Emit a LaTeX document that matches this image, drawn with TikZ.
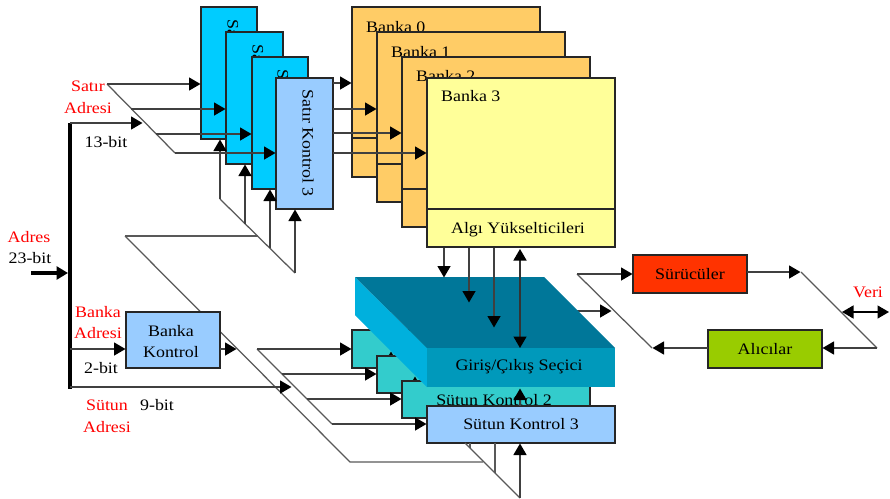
\documentclass[tikz,border=0pt]{standalone}
\usepackage{fontspec}
\setmainfont[FakeStretch=1.12]{Liberation Serif}
\usetikzlibrary{arrows.meta}
\definecolor{cyanbox}{HTML}{00CCFF}
\definecolor{lightblue}{HTML}{99CCFF}
\definecolor{bankorange}{HTML}{FFCC66}
\definecolor{bankyellow}{HTML}{FFFF99}
\definecolor{tealbox}{HTML}{33CCCC}
\definecolor{drvred}{HTML}{FF3300}
\definecolor{rcvgreen}{HTML}{99CC00}
\definecolor{iotop}{HTML}{007799}
\definecolor{iofront}{HTML}{0099BB}
\definecolor{ioside}{HTML}{00B0DD}
\tikzset{
  txt/.style={font=\fontsize{16}{18}\selectfont, inner sep=0pt, text=black, align=center},
  redtxt/.style={txt, text=red},
  boxstyle/.style={draw=black!85, line width=1.2pt, inner sep=0pt, outer sep=0pt},
  conn/.style={draw=black!75, line width=1.4pt, -{Triangle[length=11.5pt,width=13pt,color=black]}, shorten >=0.5pt},
  dblconn/.style={draw=black!80, line width=1.4pt, {Triangle[length=11.5pt,width=13pt,color=black]}-{Triangle[length=11.5pt,width=13pt,color=black]}},
  plain/.style={draw=black!65, line width=1.25pt},
  bus/.style={draw=black, line width=4.2pt}
}
% \pbox{name}{x1}{y1}{x2}{y2}{fill}{text}
\newcommand{\pbox}[7]{\node[boxstyle,txt,fill=#6,minimum width={(#4-#2)*1pt},minimum height={(#5-#3)*1pt}] (#1) at ({(#2+#4)/2},{(#3+#5)/2}) {#7};}
\begin{document}
\begin{tikzpicture}[x=1pt,y=-1pt]
\useasboundingbox (0,0) rectangle (890,498);
% ---- coordinates
\coordinate (rt) at (107,84);
\coordinate (r1) at (131,109);
\coordinate (r2) at (156,134);
\coordinate (rb) at (175,153);
\coordinate (u0) at (220,199);
\coordinate (u1) at (245,224);
\coordinate (u2) at (270,248);
\coordinate (u3) at (295,273);
\coordinate (lt) at (125,236);
\coordinate (lj) at (258,236);
\coordinate (lb) at (350,462);
\coordinate (le) at (483,462);
\coordinate (ct) at (257,349);
\coordinate (c1) at (282,374);
\coordinate (c2) at (307,399);
\coordinate (cb) at (332,424);
\coordinate (bustop) at (70,123);
\coordinate (busbot) at (70,389);
\coordinate (adin) at (31,273);
\coordinate (adbus) at (68,273);
\coordinate (brow) at (70,123);
\coordinate (rowend) at (143,123);
\coordinate (bbank) at (70,349);
\coordinate (bcol) at (70,387);
\coordinate (colend) at (292,387);
\coordinate (bkend) at (237,349);
% ---- banks
\pbox{b0}{352}{7}{540}{177}{bankorange}{}
\node[txt,anchor=west] (b0t) at (366,27) {Banka 0};
\draw[plain,draw=black!85] (352,138) coordinate (b0l) -- (540,138) coordinate (b0r);
\pbox{b1}{377}{32}{565}{202}{bankorange}{}
\node[txt,anchor=west] (b1t) at (391,52) {Banka 1};
\draw[plain,draw=black!85] (377,164) coordinate (b1l) -- (565,164) coordinate (b1r);
\pbox{b2}{402}{57}{590}{227}{bankorange}{}
\node[txt,anchor=west] (b2t) at (416,76) {Banka 2};
\draw[plain,draw=black!85] (402,189) coordinate (b2l) -- (590,189) coordinate (b2r);
\pbox{b3}{427}{78}{615}{247}{bankyellow}{}
\node[txt,anchor=west] (b3t) at (441,96) {Banka 3};
\draw[plain,draw=black!85] (427,209) coordinate (b3l) -- (615,209) coordinate (b3r);
\node[txt] (algi) at (518,230) {Algı Yükselticileri};
% ---- row controls
\pbox{s0}{201}{7}{257}{139}{cyanbox}{}
\node[txt,rotate=-90] (s0t) at (233,73) {Satır Kontrol 0};
\pbox{s1}{226}{32}{283}{164}{cyanbox}{}
\node[txt,rotate=-90] (s1t) at (258,98) {Satır Kontrol 1};
\pbox{s2}{252}{57}{308}{189}{cyanbox}{}
\node[txt,rotate=-90] (s2t) at (283,123) {Satır Kontrol 2};
\pbox{s3}{276}{78}{333}{209}{lightblue}{}
\node[txt,rotate=-90] (s3t) at (308,143) {Satır Kontrol 3};
% row address
\draw[plain] (rt) -- (rb);
\draw[conn] (rt) -- (rt-|s0.west);
\draw[conn] (r1) -- (r1-|s1.west);
\draw[conn] (r2) -- (r2-|s2.west);
\draw[conn] (rb) -- (rb-|s3.west);
% row control to banks
\draw[conn] (s3.east|-rt) ++(0,-1) -- (b0.west|-0,83);
\draw[conn] (s3.east|-r1) -- (b1.west|-r1);
\draw[conn] (s3.east|-r2) ++(0,-1) -- (b2.west|-0,133);
\draw[conn] (s3.east|-rb) -- (b3.west|-rb);
% up arrows
\draw[plain] (u0) -- (u3);
\draw[conn] (u0) -- (u0|-s0.south);
\draw[conn] (u1) -- (u1|-s1.south);
\draw[conn] (u2) -- (u2|-s2.south);
\draw[conn] (u3) -- (u3|-s3.south);
% ---- column controls
\pbox{c0b}{352}{330}{540}{368}{tealbox}{}
\coordinate (tip1s) at (391,363);\coordinate (tip1e) at (391,351);
\draw[conn] (tip1s) -- (tip1e);
\pbox{c1b}{377}{356}{565}{393}{tealbox}{}
\coordinate (tip2s) at (415,388);\coordinate (tip2e) at (415,376);
\draw[conn] (tip2s) -- (tip2e);
\pbox{c2b}{402}{381}{590}{418}{tealbox}{}
\node[txt] (c2t) at (494,400) {Sütun Kontrol 2};
% long diagonal and column lower lines
\draw[plain] (lt) -- (lj);
\draw[plain] (lt) -- (lb) -- (le);
\coordinate (cd) at (465,443);
\coordinate (ce) at (520,498);
\coordinate (cv) at (495,473);
\pbox{c3b}{427}{406}{615}{443}{lightblue}{Sütun Kontrol 3}
\draw[plain] (cd) -- (ce);
\draw[plain] (cv) -- (cv|-c3b.south);
\draw[plain] (470,448) coordinate (cw) -- (cw|-c3b.south);
\draw[conn] (ce) -- (ce|-c3b.south);
\draw[conn] (520,406) coordinate (ioup) -- (520,388);
% arrows into column controls
\draw[plain] (ct) -- (cb);
\draw[conn] (ct) -- (ct-|c0b.west);
\draw[conn] (c1) -- (c1-|c1b.west);
\draw[conn] (c2) -- (c2-|c2b.west);
\draw[conn] (cb) -- (cb-|c3b.west);
% ---- output arrow (behind selector)
\coordinate (dt) at (577,274);
\coordinate (db) at (652,348);
\draw[conn] (560,311) coordinate (ioout) -- (612,311);
% ---- I/O selector
\path[fill=ioside] (355,277) coordinate (iotl) -- (427,348) coordinate (iofl) -- (427,387) coordinate (iobl) -- (355,315) coordinate (iosl) -- cycle;
\path[fill=iotop] (iotl) -- (544,277) coordinate (iotr) -- (615,348) coordinate (iofr) -- (iofl) -- cycle;
\path[fill=iofront] (iofl) -- (iofr) -- (615,387) coordinate (iobr) -- (iobl) -- cycle;
\node[txt] (iot) at (519,367) {Giriş/Çıkış Seçici};
% bank to I/O arrows
\draw[conn] (444,248) coordinate (d0) -- (444,278);
\draw[conn] (469,248) coordinate (d1) -- (469,303);
\draw[conn] (494,248) coordinate (d2) -- (494,328);
\draw[dblconn] (520,249) coordinate (d3) -- (520,348);
% ---- data path
\pbox{drv}{633}{255}{747}{293}{drvred}{Sürücüler}
\pbox{rcv}{708}{330}{822}{368}{rcvgreen}{Alıcılar}
\coordinate (vt) at (801,272);
\coordinate (vb) at (877,348);
\draw[plain] (dt) -- (db);
\draw[conn] (dt) -- (dt-|drv.west);
\draw[conn] (drv.east|-vt) -- (vt);
\draw[plain] (vt) -- (vb);
\draw[conn] (vb) -- (vb-|rcv.east);
\draw[conn] (rcv.west|-db) -- (db);
\draw[dblconn,draw=black] (842,312) coordinate (vl) -- (889,312) coordinate (vr);
% ---- address bus
\pbox{bk}{126}{312}{220}{368}{lightblue}{}
\node[txt] (bk1) at (171,331) {Banka};
\node[txt] (bk2) at (171,352) {Kontrol};
\draw[bus] (bustop) -- (busbot);
\draw[line width=3.2pt,draw=black,-{Triangle[length=11.5pt,width=13pt]}] (adin) -- (adbus);
\draw[conn] (brow) -- (rowend);
\draw[conn] (bbank) -- (bk.west|-bbank);
\draw[conn] (bcol) -- (colend);
\draw[conn] (bk.east|-bkend) -- (bkend);
% ---- labels
\node[redtxt] (l1) at (88,86) {Satır};
\node[redtxt] (l2) at (88,108) {Adresi};
\node[txt] (l3) at (106,142) {13-bit};
\node[redtxt] (l4) at (29,237) {Adres};
\node[txt] (l5) at (30,258) {23-bit};
\node[redtxt] (l6) at (98,312) {Banka};
\node[redtxt] (l7) at (98,333) {Adresi};
\node[txt] (l8) at (101,368) {2-bit};
\node[redtxt] (l9) at (107,405) {Sütun};
\node[txt] (l10) at (157,405) {9-bit};
\node[redtxt] (l11) at (107,427) {Adresi};
\node[redtxt] (l12) at (868,292) {Veri};
\end{tikzpicture}
\end{document}
